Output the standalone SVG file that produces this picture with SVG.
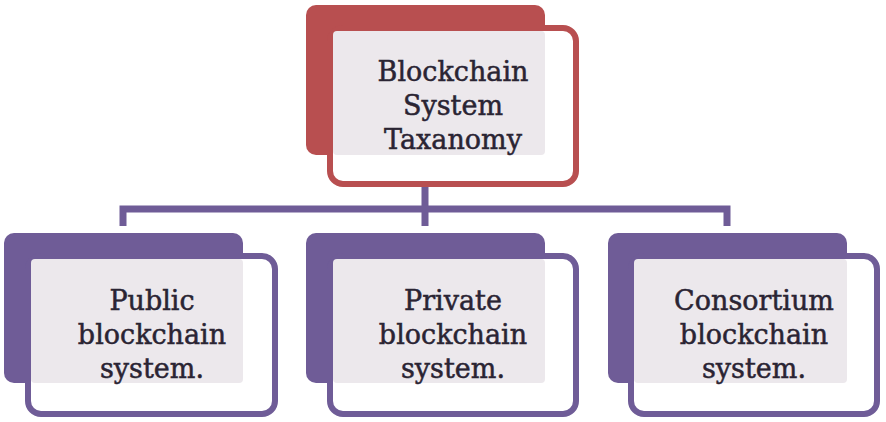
<svg xmlns="http://www.w3.org/2000/svg" width="886" height="422" viewBox="0 0 886 422">
<style>
.back-r{fill:#B84F50}
.back-p{fill:#6F5C97}
.front{fill:#FFFFFF;stroke-width:6}
.front-r{stroke:#B84F50}
.front-p{stroke:#6F5C97}
.ov{fill:#ECE8EC}
.lbl{font-family:"DejaVu Serif","Liberation Serif",serif;font-size:27px;fill:#2A2433;stroke:#2A2433;stroke-width:0.5;text-anchor:middle}
.conn{fill:none;stroke:#6F5C97;stroke-width:7}
</style>
<rect width="886" height="422" fill="#FFFFFF"/>
<g id="connectors">
<path class="conn" d="M425 184 V209 M123 226 V209 H727 V226 M425 209 V226"/>
</g>
<g id="node-root">
<rect class="back-r" x="306" y="5" width="239" height="150" rx="10"/>
<rect class="front front-r" x="330" y="28" width="246" height="156" rx="13"/>
<rect class="ov" x="333" y="31" width="212" height="124" rx="4"/>
<text class="lbl"><tspan x="453" y="81">Blockchain</tspan><tspan x="453" y="115">System</tspan><tspan x="453" y="149">Taxanomy</tspan></text>
</g>
<g id="node-public">
<rect class="back-p" x="4" y="233" width="239" height="150" rx="10"/>
<rect class="front front-p" x="28" y="256" width="247" height="158" rx="13"/>
<rect class="ov" x="31" y="259" width="212" height="124" rx="4"/>
<text class="lbl"><tspan x="152" y="310">Public</tspan><tspan x="152" y="344">blockchain</tspan><tspan x="152" y="378">system.</tspan></text>
</g>
<g id="node-private">
<rect class="back-p" x="306" y="233" width="239" height="150" rx="10"/>
<rect class="front front-p" x="330" y="256" width="246" height="158" rx="13"/>
<rect class="ov" x="333" y="259" width="212" height="124" rx="4"/>
<text class="lbl"><tspan x="453" y="310">Private</tspan><tspan x="453" y="344">blockchain</tspan><tspan x="453" y="378">system.</tspan></text>
</g>
<g id="node-consortium">
<rect class="back-p" x="608" y="233" width="239" height="150" rx="10"/>
<rect class="front front-p" x="631" y="256" width="246" height="158" rx="13"/>
<rect class="ov" x="634" y="259" width="213" height="124" rx="4"/>
<text class="lbl"><tspan x="754" y="310">Consortium</tspan><tspan x="754" y="344">blockchain</tspan><tspan x="754" y="378">system.</tspan></text>
</g>
</svg>
